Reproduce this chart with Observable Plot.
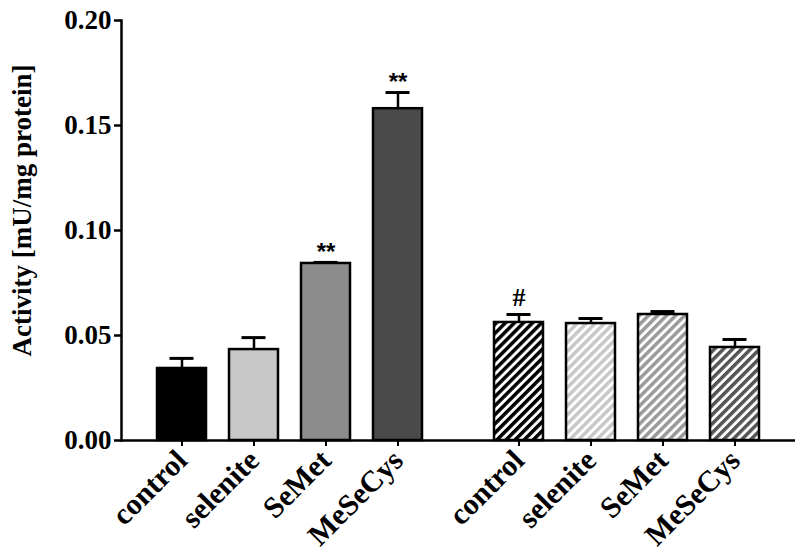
<!DOCTYPE html>
<html>
<head>
<meta charset="utf-8">
<script src="https://cdn.jsdelivr.net/npm/d3@7"></script>
<script src="https://cdn.jsdelivr.net/npm/@observablehq/plot@0.6"></script>
<style>
  html, body { margin: 0; padding: 0; background: #fff; }
  #chart { width: 800px; height: 554px; }
</style>
</head>
<body>
<div id="chart"></div>
<script>
// ---- data ----
const treatments = ["control", "selenite", "SeMet", "MeSeCys"];
const groups = ["solid", "hatched"];
const meanSolid = [0.0343, 0.0433, 0.0843, 0.158];
const errSolid = [0.0048, 0.0057, 0.0005, 0.0077];
const meanHatched = [0.0562, 0.0557, 0.0600, 0.0443];
const errHatched = [0.0038, 0.0024, 0.0014, 0.0038];
const sigSolid = ["", "", "**", "**"];
const sigHatched = ["#", "", "", ""];
const yTicks = [0, 0.05, 0.10, 0.15, 0.20];
const yTitle = "Activity [mU/mg protein]";

// ---- styles ----
const solidColors = ["#000000", "#c8c8c8", "#8c8c8c", "#4a4a4a"];
const hatchColors = ["#000000", "#c8c8c8", "#9a9a9a", "#555555"];

// hatch patterns
const ns = "http://www.w3.org/2000/svg";
const defsSvg = document.createElementNS(ns, "svg");
defsSvg.setAttribute("width", 0);
defsSvg.setAttribute("height", 0);
defsSvg.style.position = "absolute";
const defs = document.createElementNS(ns, "defs");
hatchColors.forEach((c, i) => {
  const p = document.createElementNS(ns, "pattern");
  p.setAttribute("id", "hatch-" + i);
  p.setAttribute("patternUnits", "userSpaceOnUse");
  p.setAttribute("width", 6.4);
  p.setAttribute("height", 6.4);
  p.setAttribute("patternTransform", "rotate(45)");
  const bg = document.createElementNS(ns, "rect");
  bg.setAttribute("width", 6.4); bg.setAttribute("height", 6.4); bg.setAttribute("fill", "#fff");
  const st = document.createElementNS(ns, "rect");
  st.setAttribute("width", 3.5); st.setAttribute("height", 6.4); st.setAttribute("fill", c);
  p.appendChild(bg); p.appendChild(st);
  defs.appendChild(p);
});
defsSvg.appendChild(defs);
document.body.insertBefore(defsSvg, document.body.firstChild);

const rows = groups.flatMap((g, gi) => treatments.map((t, i) => ({
  group: g,
  treatment: t,
  value: gi ? meanHatched[i] : meanSolid[i],
  err: gi ? errHatched[i] : errSolid[i],
  sig: gi ? sigHatched[i] : sigSolid[i],
  fill: gi ? `url(#hatch-${i})` : solidColors[i]
})));

const serif = "'Liberation Serif', 'Times New Roman', serif";

const chart = Plot.plot({
  width: 800,
  height: 554,
  marginLeft: 121,
  marginRight: 5,
  marginTop: 20,
  marginBottom: 114,
  style: {fontFamily: serif, fontWeight: "bold", fontSize: "27px", color: "#000", background: "#fff", overflow: "visible"},
  fx: {domain: groups, padding: 0, axis: null, label: null},
  x: {domain: treatments, paddingInner: 0.32, paddingOuter: 0.5, label: null},
  y: {domain: [0, 0.2], label: null},
  color: {type: "identity"},
  marks: [
    Plot.barY(rows, {fx: "group", x: "treatment", y: "value", fill: "fill", stroke: "#000", strokeWidth: 2.5}),
    Plot.ruleX(rows, {fx: "group", x: "treatment", y1: "value", y2: d => d.value + d.err, stroke: "#000", strokeWidth: 2.5}),
    Plot.tickY(rows, {fx: "group", x: "treatment", y: d => d.value + d.err, stroke: "#000", strokeWidth: 3, insetLeft: 12.5, insetRight: 12.5}),
    Plot.text(rows.filter(d => d.sig === "**"), {fx: "group", x: "treatment", y: d => d.value + d.err, text: "sig", dy: -10, fontSize: 24, fontFamily: "'Liberation Sans', Arial, sans-serif", fontWeight: "bold", fill: "#000"}),
    Plot.text(rows.filter(d => d.sig === "#"), {fx: "group", x: "treatment", y: d => d.value + d.err, text: "sig", dy: -17, fontSize: 26, fontFamily: serif, fontWeight: "bold", fill: "#000"}),
    Plot.ruleY([0], {stroke: "#000", strokeWidth: 2.5}),
    Plot.frame({anchor: "left", stroke: "#000", strokeWidth: 2.5, facetAnchor: "left"}),
    Plot.axisY({ticks: yTicks, tickFormat: d3.format(".2f"), tickSize: 7, strokeWidth: 2.5, tickPadding: 3, fontSize: 27, label: null}),
    Plot.text([yTitle], {text: d => d, frameAnchor: "left", textAnchor: "middle", rotate: -90, dx: -99, dy: -20, fontSize: 27, fontFamily: serif, fontWeight: "bold", fill: "#000", facetAnchor: "left"}),
    Plot.axisX({tickSize: 6, strokeWidth: 2, tickRotate: -45, fontSize: 30, tickPadding: 9, label: null})
  ]
});
document.getElementById("chart").appendChild(chart);
</script>
</body>
</html>
